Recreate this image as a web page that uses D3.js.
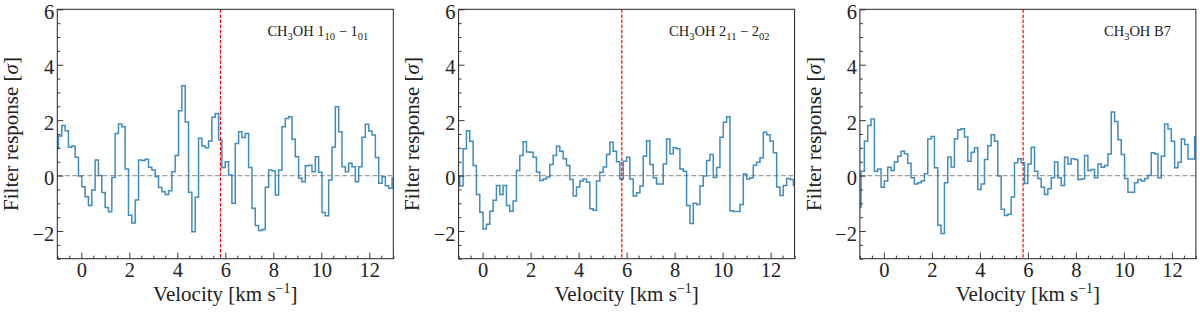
<!DOCTYPE html>
<html>
<head>
<meta charset="utf-8">
<script src="https://cdn.jsdelivr.net/npm/d3@7"></script>
<style>
body { margin: 0; background: #fff; }
</style>
</head>
<body>
<div id="vis"></div>
<script>
// channel grid of the filtered spectra (km/s, channel centres)
var v_start = -1.022, v_step = 0.139;

var resp_110 = [0.98, 1.43, 1.81, 1.62, 1.02, 1.07, 0.66, -0.02, -0.4, -0.76,
  -1.08, -0.52, 0.56, 0, -0.61, -1.15, -1.31, -0.07, 1.52, 1.86,
  1.76, 0.24, -1.43, -1.71, -0.88, 0.56, 0.54, 0.59, 0.3, 0.2,
  -0.04, -0.43, -0.58, -0.68, -0.55, 0.14, 0.72, 2.34, 3.24, 1.93,
  -0.6, -2.03, -0.78, 1.35, 1.07, 1.0, 1.25, 2.1, 2.24, 1.28,
  0.29, 0.5, 0.02, -1.0, 1.16, 1.58, 1.37, 1.52, 0.29, -1.18,
  -1.8, -1.98, -1.95, -0.42, 0.2, 0.17, -0.7, 0.2, 1.76, 2.06,
  2.12, 1.31, 0.68, -0.1, -0.22, 0.35, 0.37, 0.14, 0.68, 0.12,
  -1.33, -1.45, -0.16, 1.02, 2.48, 1.58, 0.32, 0.14, 0.44, 0.32,
  -0.22, 0.32, 1.38, 1.85, 1.61, 1.46, 0.65, -0.28, -0.04, -0.37,
  -0.46, -0.1];

var resp_211 = [-0.02, -0.38, 0.97, 1.62, 1.24, 0.36, -0.68, -1.32, -1.93, -1.76,
  -1.29, -0.89, -0.36, -0.68, -0.36, -1.08, -1.29, -0.92, 0.18, 0.72,
  1.22, 0.85, 0.84, 0.66, 0.13, -0.18, -0.12, -0.05, 0.4, 0.72,
  1.06, 0.88, 0.61, 0.36, -0.14, -0.74, -0.41, -0.2, -0.12, -0.24,
  -1.2, -1.25, -0.2, 0.12, 0.31, 0.76, 1.2, 0.88, 0.5, -0.12,
  0.52, 0.66, -0.12, -0.74, -0.62, -0.38, 0.7, 1.26, 0.4, -0.08,
  -0.3, -0.3, 0.42, 1.32, 0.79, 1.0, 0.97, 0.24, 0.16, -1.08,
  -1.73, -1.0, -1.04, -0.38, -0.02, 0.54, 0.76, -0.07, 0.29, 1.38,
  1.92, 2.12, -1.27, -1.3, -1.3, -1.04, 0.06, -0.12, -0.08, 0.37,
  0.48, 0.64, 1.56, 1.47, 1.24, 0.82, -0.41, -0.72, -0.36, -0.11,
  -0.14, -0.36];

var resp_b7 = [-1.15, 0.16, 1.24, 1.81, 2.04, 0.16, 0.24, -0.42, -0.2, 0.3,
  0.18, 0.49, 0.7, 0.88, 0.79, 0.44, -0.08, -0.3, -0.26, -0.2,
  0.07, 1.32, 1.41, 0.28, -1.79, -2.09, -0.26, 0.67, 0.31, 1.33,
  1.65, 1.69, 1.39, 0.52, 0.84, 1.0, -0.5, -0.3, 0.58, 1.08,
  1.47, 1.24, -0.02, -1.22, -1.44, -1.4, -0.77, 0.46, 0.61, 0.46,
  -0.29, 0.42, 1.02, 0.16, -0.11, -0.42, -0.68, -0.48, -0.08, 0.49,
  -0.08, -0.36, 0.66, 0.42, 0.61, 0.58, -0.14, -0.12, 0.72, 0.18,
  0.22, -0.08, 0.42, 0.3, 0.36, 0.78, 2.29, 1.95, 1.29, 0.76,
  -0.11, -0.6, -0.6, -0.26, -0.14, -0.2, -0.11, 0, 0.82, 0.78,
  -0.08, 0.7, 1.86, 1.68, 1.24, 0.28, 0.48, 1.32, 1.12, 0.6,
  0.6, 1.39];

var v_source = 5.8;
var x_ticks = [0, 2, 4, 6, 8, 10, 12];
var y_ticks = [-2, 0, 2, 4, 6];

// line labels: [text, is_subscript]
var titles = [
  [["CH", 0], ["3", 1], ["OH 1", 0], ["10", 1], [" \u2212 1", 0], ["01", 1]],
  [["CH", 0], ["3", 1], ["OH 2", 0], ["11", 1], [" \u2212 2", 0], ["02", 1]],
  [["CH", 0], ["3", 1], ["OH B7", 0]]
];
var series = [resp_110, resp_211, resp_b7];

var serif = '"Liberation Serif", "DejaVu Serif", serif';

var panel_left = [57.3, 458.6, 859.9],
    panel_top = 9.3,
    width_p = 336,
    height_p = 249.4;

var svg = d3.select('#vis')
    .append('svg')
    .attr("width", 1200)
    .attr("height", 312);

var x = d3.scaleLinear().domain([-1, 13]).range([0, width_p]),
    y = d3.scaleLinear().domain([-3, 6]).range([height_p, 0]);

var line = d3.line()
    .curve(d3.curveStep)
    .x(function(d, i) { return x(v_start + i * v_step); })
    .y(function(d) { return y(d); });

var x_minor = d3.range(-1, 13.01, 0.5).filter(function(d) { return x_ticks.indexOf(d) < 0; });
var y_minor = d3.range(-3, 6.01, 0.5).filter(function(d) { return y_ticks.indexOf(d) < 0; });

series.forEach(function(data, k) {
    var g = svg.append("g")
        .attr("transform", "translate(" + panel_left[k] + "," + panel_top + ")");

    g.append("clipPath").attr("id", "clip" + k)
      .append("rect").attr("width", width_p).attr("height", height_p);

    // zero level
    g.append("line")
        .attr("x1", 0).attr("x2", width_p)
        .attr("y1", y(0)).attr("y2", y(0))
        .attr("stroke", "#a0a0a0")
        .attr("stroke-width", 1.2)
        .attr("stroke-dasharray", "5,2.5");

    g.append("path")
        .datum(data)
        .attr("clip-path", "url(#clip" + k + ")")
        .attr("d", line)
        .attr("fill", "none")
        .attr("stroke", "#1f77b4")
        .attr("stroke-opacity", 0.85)
        .attr("stroke-width", 1.5);

    // source velocity
    g.append("line")
        .attr("x1", x(v_source)).attr("x2", x(v_source))
        .attr("y1", 0).attr("y2", height_p)
        .attr("stroke", "#ff0000")
        .attr("stroke-width", 1.2)
        .attr("stroke-dasharray", "3.5,1.6");

    // axes, ticks pointing inward
    g.append("g")
        .attr("transform", "translate(0," + height_p + ")")
        .call(d3.axisBottom(x).tickValues(x_ticks).tickSize(-6).tickSizeOuter(0).tickPadding(4));
    g.append("g")
        .attr("transform", "translate(0," + height_p + ")")
        .call(d3.axisBottom(x).tickValues(x_minor).tickSize(-3).tickSizeOuter(0).tickFormat(""));
    var ya = g.append("g")
        .call(d3.axisLeft(y).tickValues(y_ticks).tickSize(-6).tickSizeOuter(0).tickPadding(3));
    g.append("g")
        .call(d3.axisLeft(y).tickValues(y_minor).tickSize(-3).tickSizeOuter(0).tickFormat(""));

    g.selectAll(".domain").remove();
    g.selectAll(".tick line").attr("stroke", "#222").attr("stroke-width", 0.9);
    g.selectAll(".tick text")
        .attr("font-family", null)
        .style("font-family", serif)
        .style("font-size", "20.5px")
        .attr("fill", "#222");
    ya.selectAll(".tick text").attr("dy", "0.45em");

    g.append("rect")
        .attr("width", width_p)
        .attr("height", height_p)
        .attr("fill", "none")
        .attr("stroke", "#222")
        .attr("stroke-width", 1);

    // panel label
    var t = g.append("text")
        .attr("x", width_p - 25)
        .attr("y", 26.4)
        .attr("fill", "#222")
        .style("font-family", serif)
        .style("text-anchor", "end")
        .style("font-size", "14.5px");
    titles[k].forEach(function(p, j) {
        var prev = j > 0 ? titles[k][j - 1][1] : 0;
        var dy = p[1] && !prev ? 4 : (!p[1] && prev ? -4 : 0);
        t.append("tspan")
            .attr("dy", dy)
            .style("font-size", p[1] ? "10.5px" : "14.5px")
            .text(p[0]);
    });

    // x label
    var xl = g.append("text")
        .attr("x", width_p / 2)
        .attr("y", height_p + 42)
        .attr("fill", "#222")
        .style("font-family", serif)
        .style("text-anchor", "middle")
        .style("font-size", "21px")
        .text("Velocity [km s");
    xl.append("tspan").attr("dy", -8).style("font-size", "14px").text("\u22121");
    xl.append("tspan").attr("dy", 8).text("]");

    // y label
    var yl = g.append("text")
        .attr("transform", "rotate(-90)")
        .attr("x", -height_p / 2)
        .attr("y", 18 - panel_left[0])
        .attr("fill", "#222")
        .style("font-family", serif)
        .style("text-anchor", "middle")
        .style("font-size", "21px")
        .text("Filter response [");
    yl.append("tspan").style("font-style", "italic").text("\u03c3");
    yl.append("tspan").text("]");
});
</script>
</body>
</html>
